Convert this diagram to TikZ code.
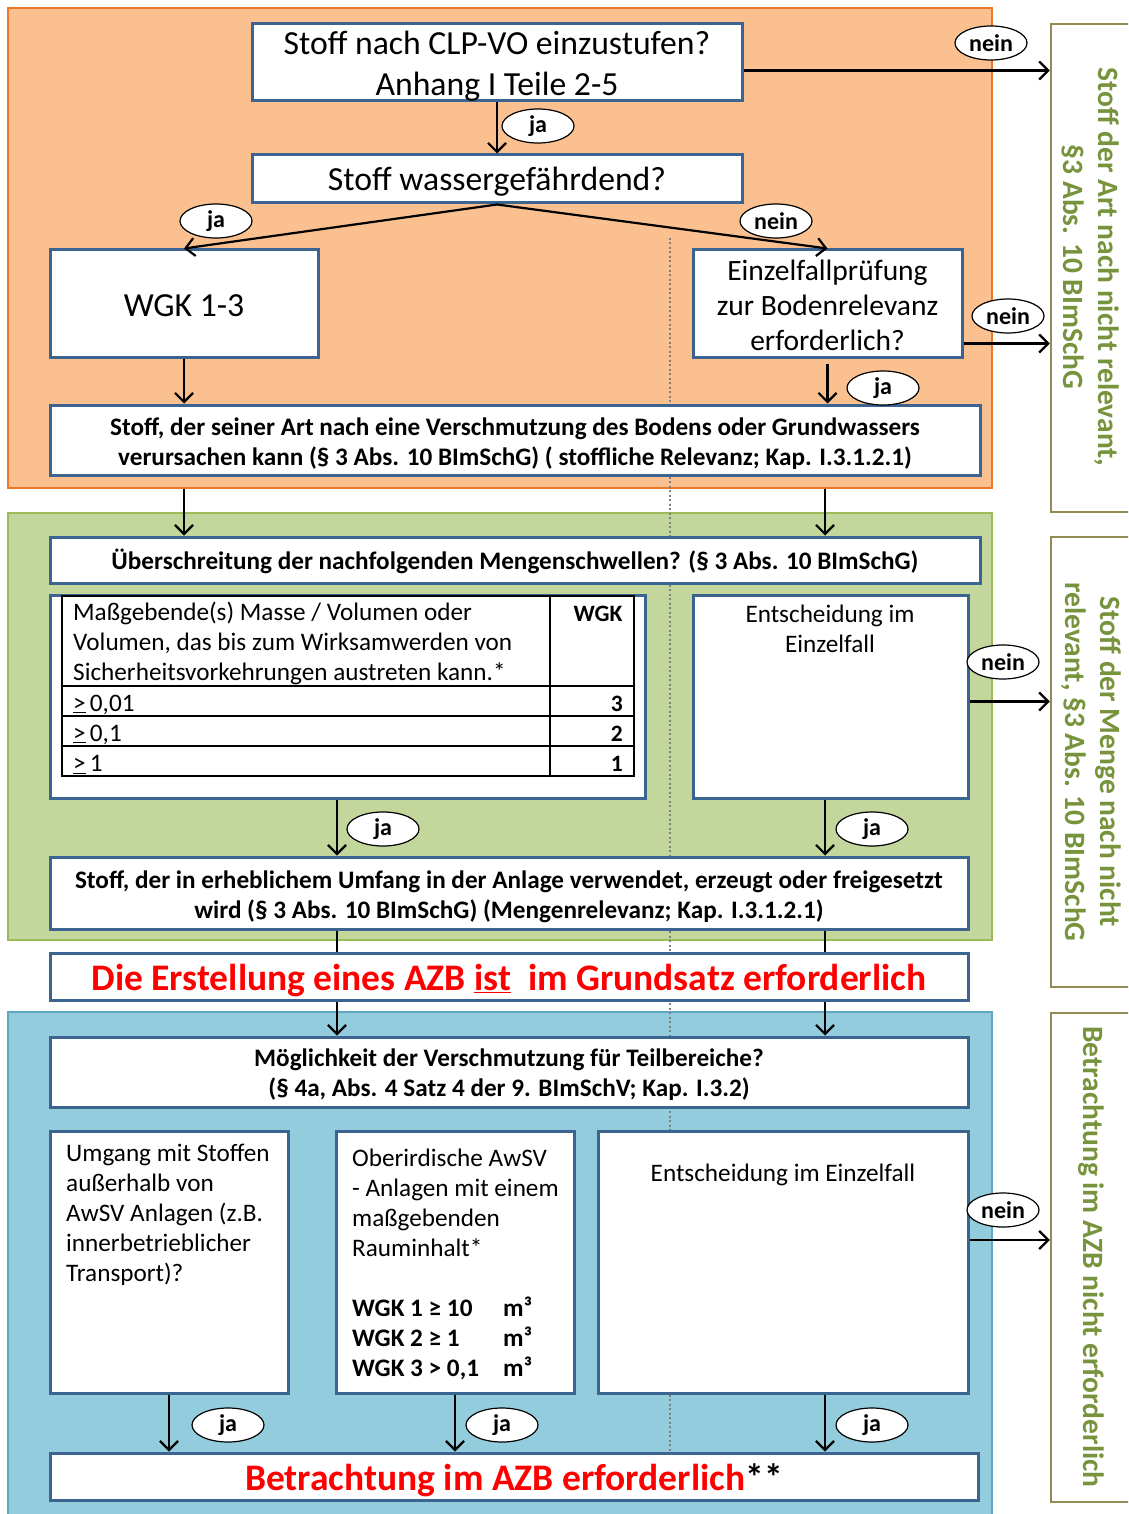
\documentclass[tikz,border=0pt]{standalone}
\usepackage{fontspec}
\setmainfont{Carlito}
\usetikzlibrary{arrows.meta,calc,shapes.geometric}
\definecolor{boxblue}{HTML}{3C6491}
\definecolor{orfill}{HTML}{FAC08F}
\definecolor{ordraw}{HTML}{E9782A}
\definecolor{grfill}{HTML}{C3D69B}
\definecolor{grdraw}{HTML}{9BBB59}
\definecolor{blfill}{HTML}{93CDDD}
\definecolor{bldraw}{HTML}{5FA8C4}
\definecolor{olive}{HTML}{948A54}
\definecolor{gtext}{HTML}{77933C}
\definecolor{dotgray}{HTML}{7F7F7F}
\newcommand\myfs[2]{\fontsize{#1}{#2}\selectfont}
\begin{document}
\begin{tikzpicture}[x=1pt,y=-1pt,
  panel/.style={inner sep=0pt,line width=1.2pt},
  box/.style={draw=boxblue,line width=3pt,fill=white,inner sep=0pt},
  txt/.style={inner sep=0pt,align=center},
  sidebox/.style={draw=olive,line width=2.5pt,fill=white,inner sep=0pt},
  sidetext/.style={rotate=-90,align=center,text=gtext,font=\myfs{29.5}{35}\bfseries},
  arr/.style={line width=2.2pt,-{Straight Barb[length=9pt,width=18pt,line width=2.2pt]}},
  plain/.style={line width=2.2pt},
  lab/.style={ellipse,draw=black,line width=1.2pt,fill=white,minimum width=72pt,minimum height=34pt,inner sep=0pt,font=\myfs{24}{26}\bfseries},
  bodytxt/.style={inner sep=0pt,align=left,font=\myfs{25.2}{30}},
  boldsm/.style={font=\myfs{25.2}{30}\bfseries},
  bigq/.style={font=\myfs{33.7}{41}}
]
\clip (0,0) rectangle (1128,1514);
\fill[white] (0,0) rectangle (1128,1514);
% panels
\node[panel,fill=orfill,draw=ordraw,minimum width=984pt,minimum height=480pt] (orange) at (500,248) {};
\node[panel,fill=grfill,draw=grdraw,minimum width=984pt,minimum height=427pt] (green) at (500,726.5) {};
\node[panel,fill=blfill,draw=bldraw,minimum width=984pt,minimum height=504pt] (blue) at (500,1264) {};
% side boxes
\node[sidebox,minimum width=110pt,minimum height=488pt] (rb1) at (1106,268) {};
\node[sidebox,minimum width=110pt,minimum height=450pt] (rb2) at (1106,762) {};
\node[sidebox,minimum width=110pt,minimum height=489pt] (rb3) at (1106,1257.5) {};
\node[sidetext] (rt1) at (1091,267) {Stoff der Art nach nicht relevant,\\§3 Abs. 10 BImSchG};
\node[sidetext] (rt2) at (1091,762) {Stoff der Menge nach nicht\\relevant, §3 Abs. 10 BImSchG};
\node[sidetext] (rt3) at (1091,1257) {Betrachtung im AZB nicht erforderlich};
% dotted divider
\coordinate (dtop) at (670,238);
\coordinate (dbot) at (670,1453);
\draw[dotgray,line width=1.6pt,dash pattern=on 2pt off 2.5pt] (dtop) -- (dbot);
% column coordinates
\coordinate (cA) at (337,0);
\coordinate (cB) at (825,0);
% main boxes
\node[box,minimum width=490pt,minimum height=77pt] (n1) at (497,62.5) {};
\node[box,minimum width=490pt,minimum height=48pt] (n2) at (497,179) {};
\node[box,minimum width=268pt,minimum height=107pt] (wgk) at (184,303.5) {};
\node[box,minimum width=269pt,minimum height=107pt] (einz) at (827.5,303.5) {};
\node[box,minimum width=930pt,minimum height=70pt] (art) at (515,440) {};
\node[box,minimum width=930pt,minimum height=46pt] (ueber) at (515,560) {};
\node[box,minimum width=595pt,minimum height=203pt] (tbox) at (347.5,696.5) {};
\node[box,minimum width=275pt,minimum height=203pt] (ent1) at (830.5,696.5) {};
\node[box,minimum width=918pt,minimum height=72pt] (menge) at (509,893) {};
\node[box,minimum width=918pt,minimum height=47pt] (azb) at (509,976.5) {};
\node[box,minimum width=918pt,minimum height=70pt] (moegl) at (509,1072) {};
\node[box,minimum width=238pt,minimum height=262pt] (umg) at (169,1262) {};
\node[box,minimum width=238pt,minimum height=262pt] (ober) at (455,1262) {};
\node[box,minimum width=370pt,minimum height=262pt] (ent2) at (783,1262) {};
\node[box,minimum width=928pt,minimum height=47pt] (betr) at (514,1476.5) {};
% box texts
\node[txt,bigq,yshift=-4pt] (n1t) at (n1) {Stoff nach CLP-VO einzustufen?\\Anhang I Teile 2-5};
\node[txt,bigq,yshift=-3pt] (n2t) at (n2) {Stoff wassergefährdend?};
\node[txt,bigq,yshift=-2pt] (wgkt) at (wgk) {WGK 1-3};
\node[txt,font=\myfs{29.5}{35},yshift=-2pt] (einzt) at (einz) {Einzelfallprüfung\\zur Bodenrelevanz\\erforderlich?};
\node[txt,boldsm,yshift=-4pt] (artt) at (art) {Stoff, der seiner Art nach eine Verschmutzung des Bodens oder Grundwassers\\verursachen kann (§ 3 Abs. 10 BImSchG) ( stoffliche Relevanz; Kap. I.3.1.2.1)};
\node[txt,boldsm,yshift=-1.5pt] (uebert) at (ueber) {Überschreitung der nachfolgenden Mengenschwellen? (§ 3 Abs. 10 BImSchG)};
\node[txt,boldsm,yshift=-4pt] (menget) at (menge) {Stoff, der in erheblichem Umfang in der Anlage verwendet, erzeugt oder freigesetzt\\wird (§ 3 Abs. 10 BImSchG) (Mengenrelevanz; Kap. I.3.1.2.1)};
\node[txt,font=\myfs{37.5}{40}\bfseries,text=red,yshift=-4pt] (azbt) at (azb) {Die Erstellung eines AZB \underline{ist}\ \ im Grundsatz erforderlich};
\node[txt,boldsm,yshift=-3pt] (moeglt) at (moegl) {Möglichkeit der Verschmutzung für Teilbereiche?\\(§ 4a, Abs. 4 Satz 4 der 9. BImSchV; Kap. I.3.2)};
\node[txt,font=\myfs{37.5}{40}\bfseries,yshift=-4pt] (betrt) at (betr) {\textcolor{red}{Betrachtung im AZB erforderlich}**};
% table inside tbox
\node[draw=black,line width=2pt,inner sep=0pt,minimum width=572pt,minimum height=180pt] (tgrid) at (348,686) {};
\draw[line width=2pt] (550,596) -- (550,776);
\draw[line width=2pt] (62,686) -- (634,686);
\draw[line width=2pt] (62,716) -- (634,716);
\draw[line width=2pt] (62,746) -- (634,746);
\node[bodytxt,anchor=north west] (th1) at (73,602) {Maßgebende(s) Masse / Volumen oder\\Volumen, das bis zum Wirksamwerden von\\Sicherheitsvorkehrungen austreten kann.*};
\node[inner sep=0pt,font=\myfs{23.5}{30}\bfseries] (th2) at (598,614) {WGK};
\node[bodytxt,anchor=west] (r1a) at (73,704.5) {\underline{>}\,0,01};
\node[bodytxt,anchor=west] (r2a) at (73,734.5) {\underline{>}\,0,1};
\node[bodytxt,anchor=west] (r3a) at (73,764.5) {\underline{>}\,1};
\node[inner sep=0pt,anchor=east,font=\myfs{23.5}{30}\bfseries] (r1b) at (623,704) {3};
\node[inner sep=0pt,anchor=east,font=\myfs{23.5}{30}\bfseries] (r2b) at (623,734) {2};
\node[inner sep=0pt,anchor=east,font=\myfs{23.5}{30}\bfseries] (r3b) at (623,764) {1};
% texts in tall boxes
\node[inner sep=0pt,align=center,font=\myfs{25.2}{30},anchor=north] (et1) at (830,605) {Entscheidung im\\Einzelfall};
\node[bodytxt,anchor=north west] (ut) at (66,1144) {Umgang mit Stoffen\\außerhalb von\\AwSV Anlagen (z.B.\\innerbetrieblicher\\Transport)?};
\node[bodytxt,anchor=north west] (ot) at (352,1149) {Oberirdische AwSV\\- Anlagen mit einem\\maßgebenden\\Rauminhalt*\\[30pt]\bfseries\makebox[151pt][l]{WGK 1 ≥ 10}m³\\\bfseries\makebox[151pt][l]{WGK 2 ≥ 1}m³\\\bfseries\makebox[151pt][l]{WGK 3 > 0,1}m³};
\node[inner sep=0pt,font=\myfs{25.2}{30},anchor=north] (et2) at (783,1164) {Entscheidung im Einzelfall};
% connector end points
\coordinate (e1) at ($(n1.east)+(0,8)$);
\coordinate (e2) at ($(einz.east)+(0,40)$);
\coordinate (e3) at ($(ent1.east)+(0,5)$);
\coordinate (e4) at ($(ent2.east)+(0,-22)$);
\coordinate (e5) at ($(einz.south)+(0,5)$);
% connectors
\draw[arr] (n1) -- (n2);
\draw[arr] (e1) -- (e1 -| rb1.west);
\draw[arr] (n2.south) -- (wgk.north);
\draw[arr] (n2.south) -- (einz.north);
\draw[arr] (e2) -- (e2 -| rb1.west);
\draw[arr] (wgk.south) -- (wgk.south |- art.north);
\draw[arr] (e5) -- (e5 |- art.north);
\draw[arr] (orange.south -| wgk.south) -- (ueber.north -| wgk.south);
\draw[arr] (orange.south -| cB) -- (ueber.north -| cB);
\draw[arr] (tbox.south -| cA) -- (menge.north -| cA);
\draw[arr] (ent1.south -| cB) -- (menge.north -| cB);
\draw[arr] (e3) -- (e3 -| rb2.west);
\draw[plain] (menge.south -| cA) -- (azb.north -| cA);
\draw[plain] (menge.south -| cB) -- (azb.north -| cB);
\draw[arr] (azb.south -| cA) -- (moegl.north -| cA);
\draw[arr] (azb.south -| cB) -- (moegl.north -| cB);
\draw[arr] (umg.south) -- (umg.south |- betr.north);
\draw[arr] (ober.south) -- (ober.south |- betr.north);
\draw[arr] (ent2.south -| cB) -- (betr.north -| cB);
\draw[arr] (e4) -- (e4 -| rb3.west);
% labels
\node[lab] (l1) at (538,126) {ja};
\node[lab] (l2) at (991,43) {nein};
\node[lab] (l3) at (216,221) {ja};
\node[lab] (l4) at (776,221) {nein};
\node[lab] (l5) at (1008,316) {nein};
\node[lab] (l6) at (883,388) {ja};
\node[lab] (l7) at (383,829) {ja};
\node[lab] (l8) at (872,829) {ja};
\node[lab] (l9) at (1003,662) {nein};
\node[lab] (l10) at (228,1425) {ja};
\node[lab] (l11) at (502,1425) {ja};
\node[lab] (l12) at (872,1425) {ja};
\node[lab] (l13) at (1003,1210) {nein};
\end{tikzpicture}
\end{document}
